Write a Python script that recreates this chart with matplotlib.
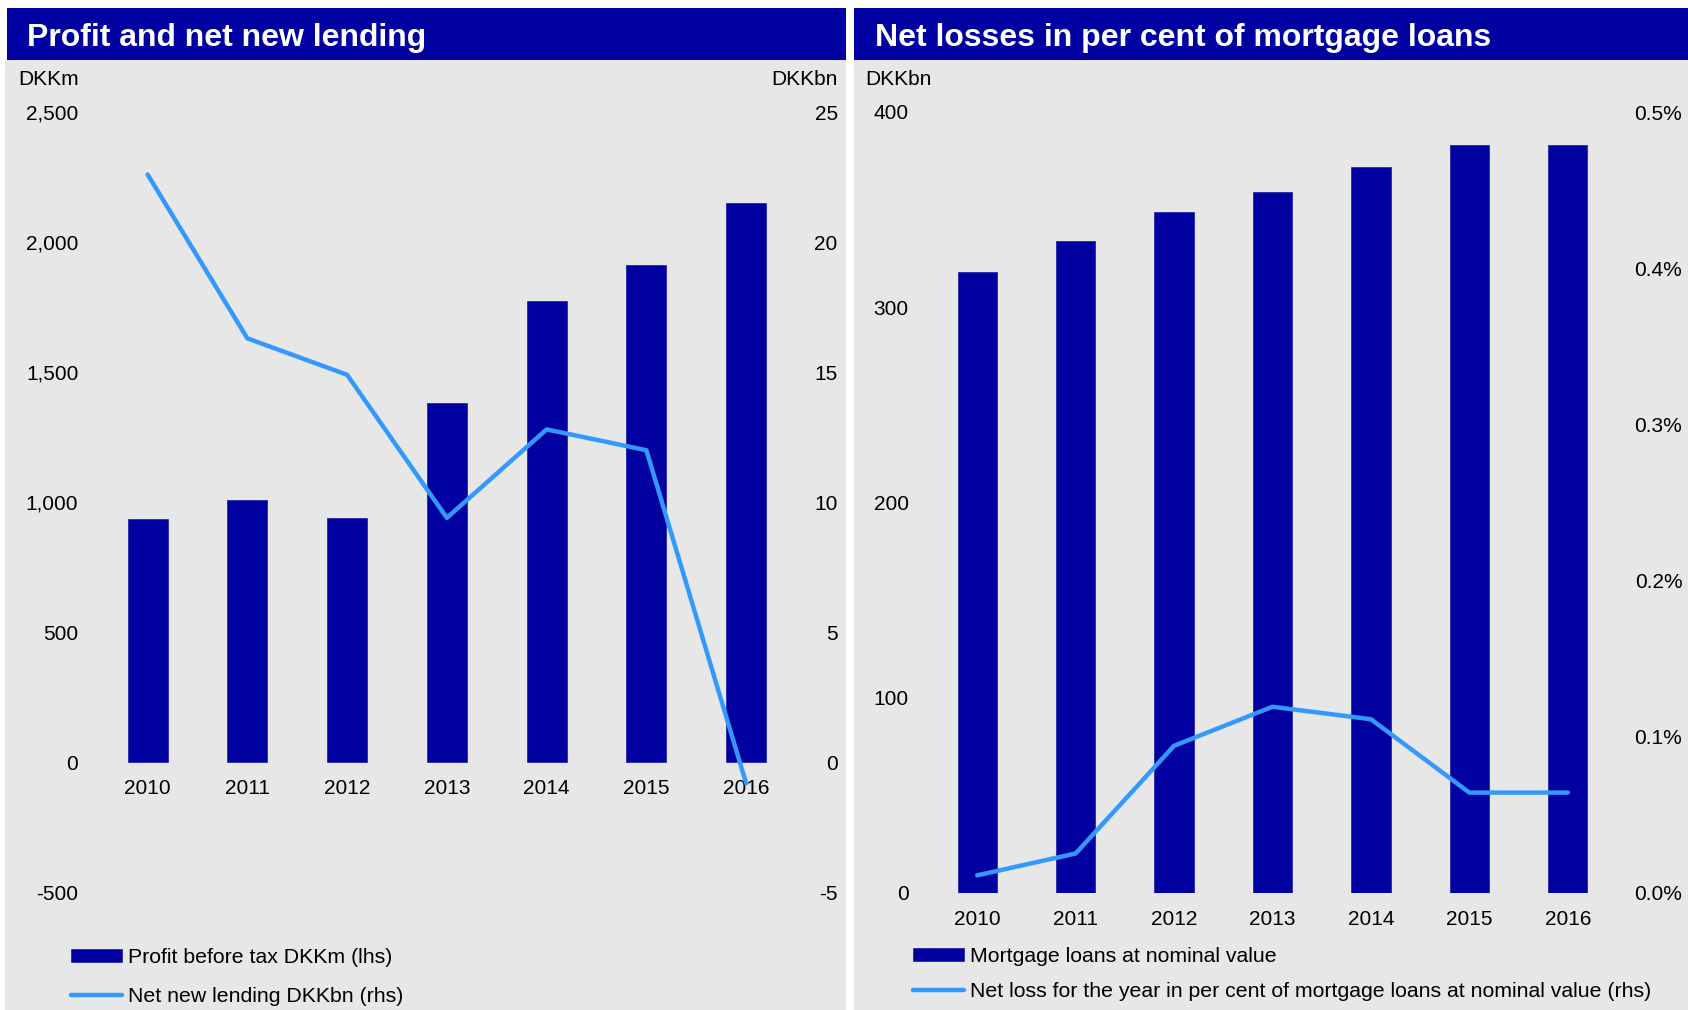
import matplotlib
matplotlib.use('Agg')
import matplotlib.pyplot as plt
from matplotlib.patches import Rectangle
from matplotlib.ticker import FuncFormatter

plt.rcParams['font.family'] = ['Liberation Sans', 'DejaVu Sans']
plt.rcParams['axes.unicode_minus'] = False

# ---------------- data ----------------
years = ['2010', '2011', '2012', '2013', '2014', '2015', '2016']
profit_dkkm = [934, 1008, 938, 1380, 1773, 1913, 2149]
net_new_lending_dkkbn = [22.6, 16.3, 14.9, 9.4, 12.8, 12.0, -0.8]
mortgage_loans_dkkbn = [318, 334, 349, 359, 372, 383, 383]
net_loss_pct = [0.011, 0.025, 0.094, 0.119, 0.111, 0.064, 0.064]

left_lhs_ticks = [-500, 0, 500, 1000, 1500, 2000, 2500]
left_rhs_ticks = [-5, 0, 5, 10, 15, 20, 25]
right_lhs_ticks = [0, 100, 200, 300, 400]
right_rhs_ticks = [0.0, 0.1, 0.2, 0.3, 0.4, 0.5]

BAR = '#0000A0'
LINE = '#3399FF'
BG = '#E7E7E7'
FS = 15
LFS = 15.3

W, H = 1688, 1010
fig = plt.figure(figsize=(W / 100, H / 100), dpi=100)
fig.patch.set_facecolor('white')


def rect(x0, y0, x1, y1, color):
    fig.add_artist(Rectangle((x0 / W, 1 - y1 / H), (x1 - x0) / W, (y1 - y0) / H,
                             transform=fig.transFigure, facecolor=color,
                             edgecolor='none', zorder=-5))


def axes_px(x0, y0, x1, y1):
    return fig.add_axes([x0 / W, 1 - y1 / H, (x1 - x0) / W, (y1 - y0) / H])


# panel backgrounds and title bars
rect(5, 60, 846, 1010, BG)
rect(7, 8, 846, 60, BAR)
rect(854, 60, 1688, 1010, BG)
rect(854, 8, 1688, 60, BAR)

fig.text(27 / W, 1 - 38 / H, 'Profit and net new lending', color='white',
         fontsize=23, fontweight='bold', va='center', ha='left')
fig.text(875 / W, 1 - 38 / H, 'Net losses in per cent of mortgage loans', color='white',
         fontsize=23, fontweight='bold', va='center', ha='left')

fig.text(18 / W, 1 - 79.5 / H, 'DKKm', fontsize=FS, va='center', ha='left')
fig.text(838 / W, 1 - 79.5 / H, 'DKKbn', fontsize=FS, va='center', ha='right')
fig.text(865 / W, 1 - 79.5 / H, 'DKKbn', fontsize=FS, va='center', ha='left')


def style(ax):
    ax.set_facecolor('none')
    for s in ax.spines.values():
        s.set_visible(False)
    ax.tick_params(length=0, labelsize=FS)


x = list(range(len(years)))

# ---------------- left chart ----------------
ax1 = axes_px(97.7, 112, 796, 892.5)
style(ax1)
bars1 = ax1.bar(x, profit_dkkm, width=0.4, color=BAR, edgecolor='#2A2AB0', linewidth=0.6,
                label='Profit before tax DKKm (lhs)')
ax1.set_xlim(-0.5, 6.5)
ax1.set_ylim(-500, 2500)
ax1.set_yticks(left_lhs_ticks)
ax1.yaxis.set_major_formatter(FuncFormatter(lambda v, p: f'{v:,.0f}'))
ax1.tick_params(axis='y', pad=14)
ax1.set_xticks(x)
ax1.set_xticklabels(years)
ax1.spines['bottom'].set_position(('data', 0))
ax1.tick_params(axis='x', pad=12)

ax1b = ax1.twinx()
style(ax1b)
line1, = ax1b.plot(x, net_new_lending_dkkbn, color=LINE, lw=3.2, solid_capstyle='round',
                   solid_joinstyle='round', label='Net new lending DKKbn (rhs)')
ax1b.set_ylim(-5, 25)
ax1b.set_yticks(left_rhs_ticks)
ax1b.tick_params(axis='y', pad=30)
for t in ax1b.yaxis.get_major_ticks():
    t.label2.set_horizontalalignment('right')

leg1 = fig.legend(handles=[bars1, line1], loc='upper left',
                  bbox_to_anchor=(71 / W, 1 - 948 / H), frameon=False, fontsize=LFS,
                  handlelength=2.4, handleheight=0.5, handletextpad=0.3,
                  labelspacing=0.95, borderpad=0, borderaxespad=0)

# ---------------- right chart ----------------
ax2 = axes_px(928, 112, 1617, 892.5)
style(ax2)
bars2 = ax2.bar(x, mortgage_loans_dkkbn, width=0.4, color=BAR, edgecolor='#2A2AB0',
                linewidth=0.6, label='Mortgage loans at nominal value')
ax2.set_xlim(-0.5, 6.5)
ax2.set_ylim(0, 400)
ax2.set_yticks(right_lhs_ticks)
ax2.tick_params(axis='y', pad=14)
ax2.set_xticks(x)
ax2.set_xticklabels(years)
ax2.tick_params(axis='x', pad=12.5)

ax2b = ax2.twinx()
style(ax2b)
line2, = ax2b.plot(x, net_loss_pct, color=LINE, lw=3.2, solid_capstyle='round',
                   solid_joinstyle='round',
                   label='Net loss for the year in per cent of mortgage loans at nominal value (rhs)')
ax2b.set_ylim(0, 0.5)
ax2b.set_yticks(right_rhs_ticks)
ax2b.yaxis.set_major_formatter(FuncFormatter(lambda v, p: f'{v:.1f}%'))
ax2b.tick_params(axis='y', pad=47)
for t in ax2b.yaxis.get_major_ticks():
    t.label2.set_horizontalalignment('right')

leg2 = fig.legend(handles=[bars2, line2], loc='upper left',
                  bbox_to_anchor=(913 / W, 1 - 947 / H), frameon=False, fontsize=LFS,
                  handlelength=2.4, handleheight=0.5, handletextpad=0.3,
                  labelspacing=0.75, borderpad=0, borderaxespad=0)

fig.savefig('out.png', dpi=100, facecolor=fig.get_facecolor())
